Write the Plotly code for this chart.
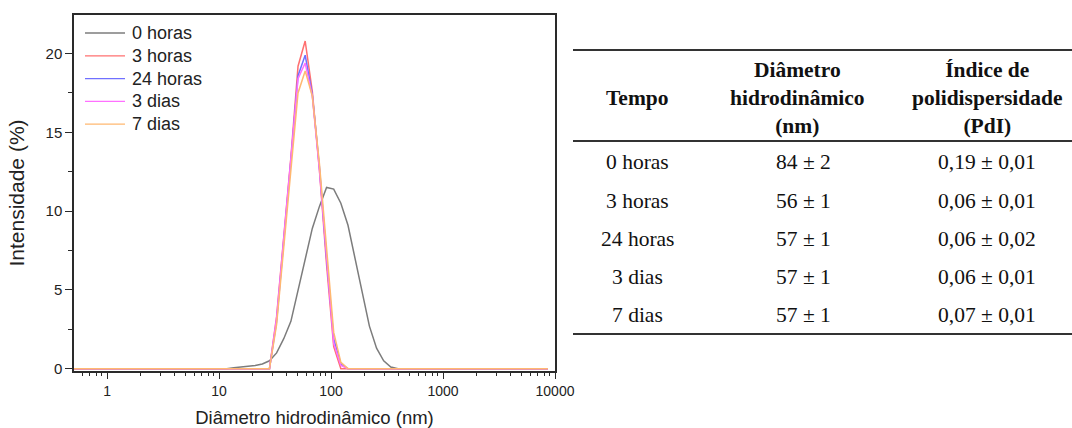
import plotly.graph_objects as go

# ---------------- data ----------------
diam_nm = [0.4, 0.4632, 0.5365, 0.6213, 0.7195, 0.8332, 0.9649, 1.117, 1.294, 1.499,
           1.736, 2.01, 2.328, 2.696, 3.122, 3.615, 4.187, 4.849, 5.615, 6.503,
           7.531, 8.721, 10.1, 11.7, 13.54, 15.69, 18.17, 21.04, 24.36, 28.21,
           32.67, 37.84, 43.82, 50.75, 58.77, 68.06, 78.82, 91.28, 105.7, 122.4,
           141.8, 164.2, 190.1, 220.2, 255.0, 295.3, 342.0, 396.1, 458.7, 531.2,
           615.1, 712.4, 825.0, 955.4, 1106, 1281, 1484, 1718, 1990, 2305,
           2669, 3091, 3580, 4145, 4801, 5560, 6439, 7456, 8635]

int_0h = [0, 0, 0, 0, 0, 0, 0, 0, 0, 0,
          0, 0, 0, 0, 0, 0, 0, 0, 0, 0,
          0, 0, 0, 0.0, 0.05, 0.1, 0.15, 0.2, 0.3, 0.5,
          1.0, 1.9, 3.0, 4.9, 6.8, 8.9, 10.3, 11.5, 11.4, 10.5,
          9.1, 7.0, 4.8, 2.7, 1.3, 0.5, 0.1, 0, 0, 0,
          0, 0, 0, 0, 0, 0, 0, 0, 0, 0,
          0, 0, 0, 0, 0, 0, 0, 0, 0]

int_3h = [0, 0, 0, 0, 0, 0, 0, 0, 0, 0,
          0, 0, 0, 0, 0, 0, 0, 0, 0, 0,
          0, 0, 0, 0, 0, 0, 0, 0, 0, 0,
          3.3, 8.3, 13.4, 19.2, 20.8, 17.6, 12.6, 6.6, 1.4, 0,
          0, 0, 0, 0, 0, 0, 0, 0, 0, 0,
          0, 0, 0, 0, 0, 0, 0, 0, 0, 0,
          0, 0, 0, 0, 0, 0, 0, 0, 0]

int_24h = [0, 0, 0, 0, 0, 0, 0, 0, 0, 0,
           0, 0, 0, 0, 0, 0, 0, 0, 0, 0,
           0, 0, 0, 0, 0, 0, 0, 0, 0, 0,
           3.0, 8.0, 13.2, 18.6, 19.9, 17.4, 12.8, 7.0, 1.9, 0.3,
           0, 0, 0, 0, 0, 0, 0, 0, 0, 0,
           0, 0, 0, 0, 0, 0, 0, 0, 0, 0,
           0, 0, 0, 0, 0, 0, 0, 0, 0]

int_3d = [0, 0, 0, 0, 0, 0, 0, 0, 0, 0,
          0, 0, 0, 0, 0, 0, 0, 0, 0, 0,
          0, 0, 0, 0, 0, 0, 0, 0, 0, 0,
          3.2, 8.3, 13.4, 18.4, 19.4, 17.3, 12.6, 6.8, 1.6, 0.2,
          0, 0, 0, 0, 0, 0, 0, 0, 0, 0,
          0, 0, 0, 0, 0, 0, 0, 0, 0, 0,
          0, 0, 0, 0, 0, 0, 0, 0, 0]

int_7d = [0, 0, 0, 0, 0, 0, 0, 0, 0, 0,
          0, 0, 0, 0, 0, 0, 0, 0, 0, 0,
          0, 0, 0, 0, 0, 0, 0, 0, 0, 0,
          2.8, 7.6, 12.8, 17.5, 18.9, 17.3, 13.0, 7.4, 2.3, 0.4,
          0, 0, 0, 0, 0, 0, 0, 0, 0, 0,
          0, 0, 0, 0, 0, 0, 0, 0, 0, 0,
          0, 0, 0, 0, 0, 0, 0, 0, 0]

series_names = ["0 horas", "3 horas", "24 horas", "3 dias", "7 dias"]
series_values = [int_0h, int_3h, int_24h, int_3d, int_7d]
series_colors = ["#7c7c7c", "#ff7070", "#7070ff", "#ff70ff", "#ffb870"]

x_tick_vals = [1, 10, 100, 1000, 10000]
x_tick_text = ["1", "10", "100", "1000", "10000"]
y_tick_vals = [0, 5, 10, 15, 20]

table_header = ["Tempo", "Diâmetro<br>hidrodinâmico<br>(nm)", "Índice de<br>polidispersidade<br>(PdI)"]
table_tempo = ["0 horas", "3 horas", "24 horas", "3 dias", "7 dias"]
table_diam = ["84 ± 2", "56 ± 1", "57 ± 1", "57 ± 1", "57 ± 1"]
table_pdi = ["0,19 ± 0,01", "0,06 ± 0,01", "0,06 ± 0,02", "0,06 ± 0,01", "0,07 ± 0,01"]

# ---------------- layout helpers ----------------
W, H = 1072, 428


def px(x):
    return x / W


def py(y):
    return 1 - y / H


SANS = "Liberation Sans, Arial, sans-serif"
SERIF = "Liberation Serif, Times New Roman, serif"
AX = "#2a2a2a"

fig = go.Figure()
for name, vals, col in zip(series_names, series_values, series_colors):
    fig.add_trace(go.Scatter(x=diam_nm, y=vals, mode="lines", name=name,
                             showlegend=False, line=dict(color=col, width=1.5)))

minor_x = [d * 10 ** k for k in range(-1, 4) for d in range(2, 10)]

fig.update_layout(
    width=W, height=H,
    margin=dict(l=0, r=0, t=0, b=0, autoexpand=False),
    paper_bgcolor="white", plot_bgcolor="white",
    font=dict(family=SANS, color="#222"),
    showlegend=False,
    xaxis=dict(
        type="log", domain=[px(74), px(555)], range=[-0.295, 4.0], automargin=False,
        tickmode="array", tickvals=x_tick_vals, ticktext=x_tick_text,
        ticks="outside", ticklen=6, tickwidth=1.3, tickcolor=AX,
        minor=dict(tickmode="array", tickvals=minor_x, ticks="outside",
                   ticklen=3.5, tickwidth=1.2, tickcolor=AX, showgrid=False),
        showline=True, linecolor=AX, linewidth=1.5, mirror=True,
        showgrid=False, zeroline=False,
        tickfont=dict(size=14, family=SANS, color="#222"),
        title=dict(text="Diâmetro hidrodinâmico (nm)", font=dict(size=18.5, family=SANS, color="#222"),
                   standoff=16),
    ),
    yaxis=dict(
        domain=[1 - 371 / H, 1 - 15 / H], range=[-0.15, 22.45], automargin=False,
        tickmode="array", tickvals=y_tick_vals,
        ticks="outside", ticklen=7, tickwidth=1.3, tickcolor=AX,
        minor=dict(dtick=2.5, tick0=0, ticks="outside", ticklen=4, tickwidth=1.2,
                   tickcolor=AX, showgrid=False),
        showline=True, linecolor=AX, linewidth=1.5, mirror=True,
        showgrid=False, zeroline=False,
        tickfont=dict(size=15, family=SANS, color="#222"),
        title=dict(text="Intensidade (%)", font=dict(size=21, family=SANS, color="#222"),
                   standoff=15),
    ),
)

# ---------------- legend (drawn inside the plot, top-left) ----------------
legend_y0, legend_dy = 33, 22.8
for i, (name, col) in enumerate(zip(series_names, series_colors)):
    yy = legend_y0 + i * legend_dy
    fig.add_shape(type="line", xref="paper", yref="paper",
                  x0=px(85), x1=px(125), y0=py(yy), y1=py(yy),
                  line=dict(color=col, width=1.3))
    fig.add_annotation(x=px(130), y=py(yy), xref="paper", yref="paper",
                       text=name, showarrow=False, xanchor="left", yanchor="middle",
                       font=dict(family=SANS, size=18, color="#222"))

# ---------------- table ----------------
line_style = dict(color="#333", width=2)
for yline in (50, 141, 334):
    fig.add_shape(type="line", xref="paper", yref="paper",
                  x0=px(573), x1=px(1072), y0=py(yline), y1=py(yline), line=line_style)

col_x = [637, 797, 987]
body_col_x = [637, 803, 987]
for cx, txt in zip(col_x, table_header):
    fig.add_annotation(x=px(cx), y=py(98), xref="paper", yref="paper",
                       text="<b>" + txt + "</b>", showarrow=False,
                       xanchor="center", yanchor="middle", align="center",
                       font=dict(family=SERIF, size=21.5, color="#111"))

row_y = [162, 200.5, 239, 277, 315]
for ry, a, b, c in zip(row_y, table_tempo, table_diam, table_pdi):
    for cx, txt in zip(body_col_x, (a, b, c)):
        fig.add_annotation(x=px(cx), y=py(ry), xref="paper", yref="paper",
                           text=txt, showarrow=False, xanchor="center", yanchor="middle",
                           font=dict(family=SERIF, size=21.5, color="#111"))

fig.write_html("out.html")
